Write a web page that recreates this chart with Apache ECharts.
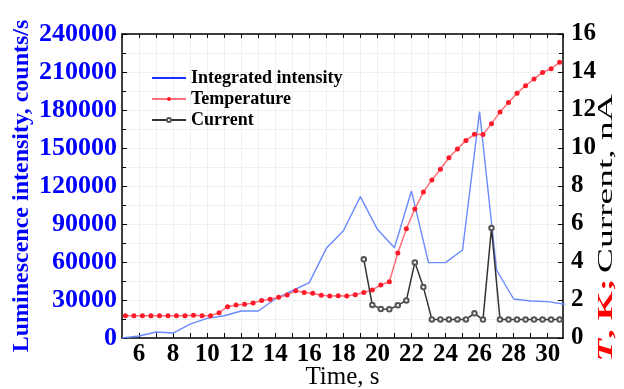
<!DOCTYPE html>
<html>
<head>
<meta charset="utf-8">
<script src="https://cdn.jsdelivr.net/npm/echarts@6/dist/echarts.min.js"></script>
<style>
  html, body { margin: 0; padding: 0; background: #fff; }
  #chart { width: 624px; height: 389px; }
</style>
</head>
<body>
<div id="chart"></div>
<script>
// integrated intensity, counts/s (left axis)
const intTime = [5, 6, 7, 8, 9, 10, 11, 12, 13, 14, 15, 16, 17, 18, 19, 20, 21, 22, 23, 24, 25, 26, 27, 28, 29, 30, 31];
const intVals = [0, 1600, 4700, 3900, 11000, 15500, 17600, 21300, 21300, 30800, 37300, 43700, 70800, 84700, 111600,
  85800, 71300, 116000, 59500, 59500, 69500, 178700, 53700, 30800, 29200, 28700, 26600];

// temperature (right axis)
const tempTime = [5.2, 5.7, 6.2, 6.7, 7.2, 7.7, 8.2, 8.7, 9.2, 9.7, 10.2, 10.7, 11.2, 11.7, 12.2, 12.7, 13.2, 13.7,
  14.2, 14.7, 15.2, 15.7, 16.2, 16.7, 17.2, 17.7, 18.2, 18.7, 19.2, 19.7, 20.2, 20.7, 21.2, 21.7, 22.2, 22.7,
  23.2, 23.7, 24.2, 24.7, 25.2, 25.7, 26.2, 26.7, 27.2, 27.7, 28.2, 28.7, 29.2, 29.7, 30.2, 30.7];
const tempVals = [1.17, 1.17, 1.17, 1.17, 1.17, 1.17, 1.17, 1.17, 1.2, 1.17, 1.17, 1.33, 1.65, 1.74, 1.77, 1.84,
  1.97, 2.04, 2.14, 2.26, 2.49, 2.4, 2.35, 2.25, 2.21, 2.23, 2.21, 2.28, 2.39, 2.53, 2.79, 2.96, 4.47, 5.75,
  6.79, 7.68, 8.32, 8.88, 9.49, 9.95, 10.4, 10.72, 10.71, 11.27, 11.9, 12.4, 12.88, 13.28, 13.63, 13.98, 14.17, 14.51];

// current, nA (right axis)
const curTime = [19.2, 19.7, 20.2, 20.7, 21.2, 21.7, 22.2, 22.7, 23.2, 23.7, 24.2, 24.7, 25.2, 25.7, 26.2, 26.7,
  27.2, 27.7, 28.2, 28.7, 29.2, 29.7, 30.2, 30.7];
const curVals = [4.14, 1.74, 1.53, 1.51, 1.72, 1.98, 3.98, 2.68, 0.98, 0.98, 0.98, 0.98, 0.98, 1.3, 0.97, 5.79,
  0.97, 0.97, 0.97, 0.97, 0.97, 0.97, 0.97, 0.97];

const zip = (xs, ys) => xs.map((x, i) => [x, ys[i]]);
const serif = "Liberation Serif";
const gridColor = "#efefef";

const chart = echarts.init(document.getElementById("chart"), null, { renderer: "canvas" });

const option = {
  animation: false,
  backgroundColor: "#fff",
  grid: { left: 122, right: 61, top: 34, bottom: 51, containLabel: false, outerBoundsMode: "none" },
  legend: {
    orient: "vertical",
    left: 151,
    top: 69,
    padding: 0,
    itemWidth: 34,
    itemHeight: 5,
    itemGap: 3,
    textStyle: { fontFamily: serif, fontSize: 18, fontWeight: "bold", color: "#000" },
    data: [
      {
        name: "Integrated intensity",
        lineStyle: { color: "#1a2cff", width: 2 },
        itemStyle: { color: "rgba(0,0,0,0)", borderWidth: 0 }
      },
      { name: "Temperature" },
      { name: "Current" }
    ]
  },
  xAxis: [
    {
      type: "value",
      position: "bottom",
      min: 5,
      max: 30.9,
      interval: 1,
      axisLine: { show: true, onZero: false, lineStyle: { color: "#000", width: 1.5 } },
      axisTick: { show: true, inside: true, length: 5, lineStyle: { color: "#000" } },
      axisLabel: {
        margin: 4,
        fontFamily: serif, fontSize: 25, fontWeight: "bold", color: "#000",
        showMinLabel: false, showMaxLabel: false,
        formatter: v => (Number.isInteger(v) && v % 2 === 0 ? String(v) : "")
      },
      splitLine: { show: true, lineStyle: { color: gridColor, width: 1 } },
      name: "Time, s",
      nameLocation: "middle",
      nameGap: 27,
      nameMoveOverlap: false,
      nameTextStyle: { fontFamily: serif, fontSize: 25, color: "#000" }
    },
    {
      type: "value",
      position: "top",
      min: 5,
      max: 30.9,
      interval: 1,
      axisLine: { show: true, onZero: false, lineStyle: { color: "#000", width: 1.5 } },
      axisTick: { show: true, inside: true, length: 4, lineStyle: { color: "#000" } },
      axisLabel: { show: false },
      splitLine: { show: false }
    }
  ],
  yAxis: [
    {
      type: "value",
      position: "left",
      min: 0,
      max: 240000,
      interval: 30000,
      axisLine: { show: true, onZero: false, lineStyle: { color: "#000", width: 1.5 } },
      axisTick: { show: true, inside: true, length: 5, lineStyle: { color: "#000" } },
      minorTick: { show: true, splitNumber: 2, length: 4, lineStyle: { color: "#000" } },
      minorSplitLine: { show: true, lineStyle: { color: gridColor } },
      splitLine: { show: true, lineStyle: { color: gridColor } },
      axisLabel: {
        margin: 5, fontFamily: serif, fontSize: 26, fontWeight: "bold", color: "#0000ff",
        formatter: v => String(v)
      },
      name: "Luminescence intensity, counts/s",
      nameLocation: "middle",
      nameGap: 88,
      nameMoveOverlap: false,
      nameTextStyle: { fontFamily: serif, fontSize: 24, fontWeight: "bold", color: "#0000ff" }
    },
    {
      type: "value",
      position: "right",
      min: 0,
      max: 16,
      interval: 2,
      axisLine: { show: true, onZero: false, lineStyle: { color: "#000", width: 1.5 } },
      axisTick: { show: true, inside: true, length: 5, lineStyle: { color: "#000" } },
      minorTick: { show: true, splitNumber: 2, length: 4, lineStyle: { color: "#000" } },
      splitLine: { show: false },
      axisLabel: { margin: 8, fontFamily: serif, fontSize: 25, fontWeight: "bold", color: "#000" }
    }
  ],
  graphic: [
    {
      type: "text",
      x: 606,
      y: 228,
      rotation: Math.PI / 2,
      scaleX: 1.7,
      style: {
        text: "{a|T}{b|, K;} {c|Current, nA}",
        align: "center",
        verticalAlign: "middle",
        rich: {
          a: { fontFamily: serif, fontSize: 22, fontWeight: "bold", fontStyle: "italic", fill: "#ff0000" },
          b: { fontFamily: serif, fontSize: 22, fontWeight: "bold", fill: "#ff0000" },
          c: { fontFamily: serif, fontSize: 22, fill: "#000" }
        }
      }
    }
  ],
  series: [
    {
      name: "Integrated intensity",
      type: "line",
      xAxisIndex: 0,
      yAxisIndex: 0,
      symbol: "none",
      color: "#6a8aff",
      lineStyle: { color: "#6a8aff", width: 1.4 },
      data: zip(intTime, intVals)
    },
    {
      name: "Temperature",
      type: "line",
      xAxisIndex: 0,
      yAxisIndex: 1,
      symbol: "circle",
      symbolSize: 5,
      color: "#ff1a2a",
      itemStyle: { color: "#ff1a2a" },
      lineStyle: { color: "#ff6f7c", width: 1.5 },
      data: zip(tempTime, tempVals)
    },
    {
      name: "Current",
      type: "line",
      xAxisIndex: 0,
      yAxisIndex: 1,
      symbol: "emptyCircle",
      symbolSize: 4.5,
      color: "#444",
      itemStyle: { color: "#555", borderWidth: 1 },
      lineStyle: { color: "#333", width: 1.5 },
      data: zip(curTime, curVals)
    }
  ]
};

chart.setOption(option);
</script>
</body>
</html>
